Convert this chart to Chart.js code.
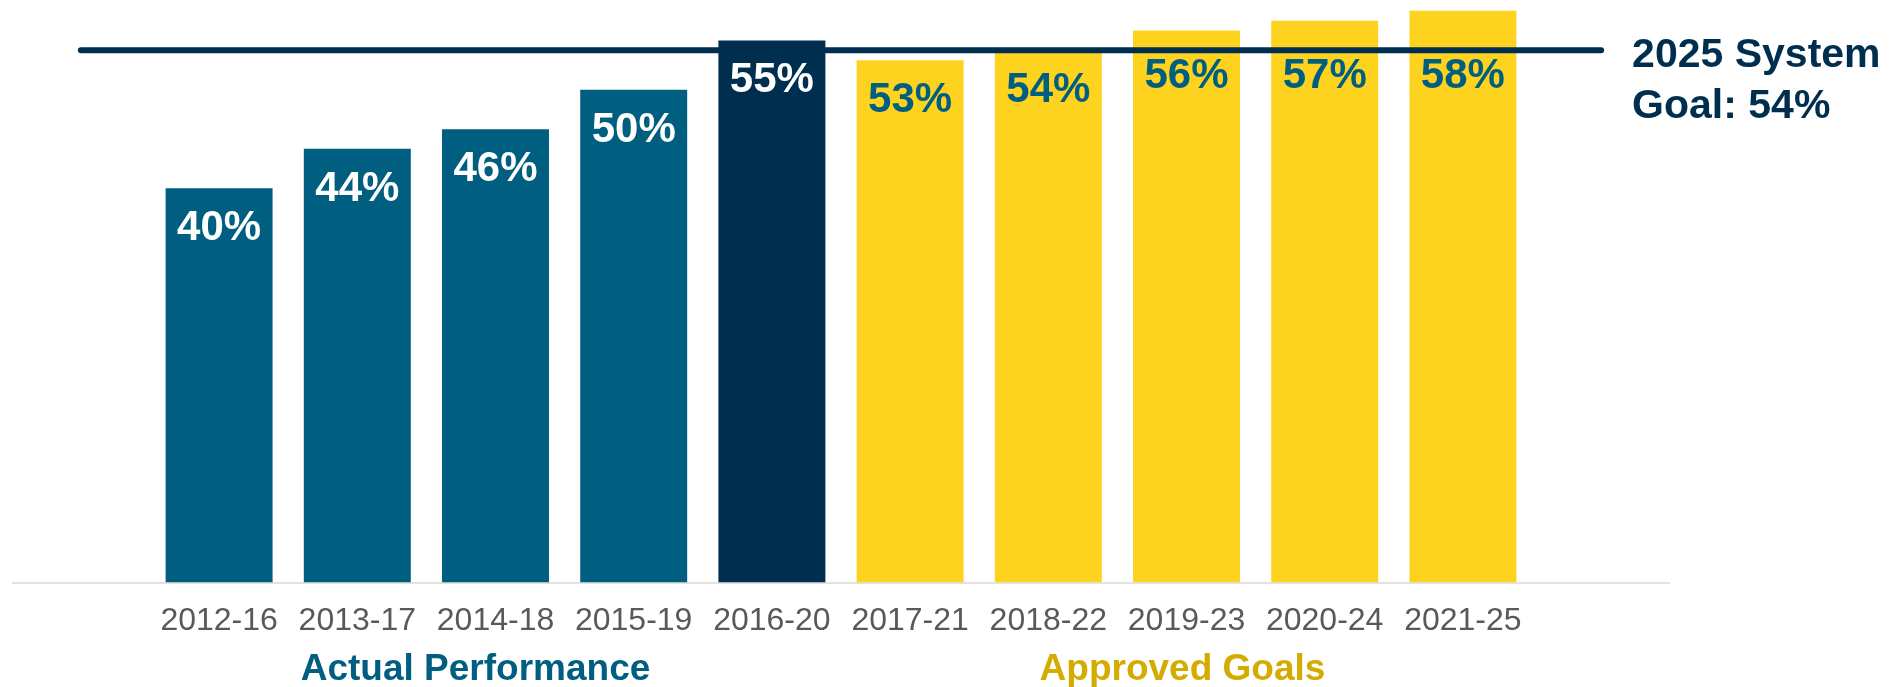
<!DOCTYPE html>
<html>
<head>
<meta charset="utf-8">
<script src="https://cdn.jsdelivr.net/npm/chart.js@4.4.1/dist/chart.umd.min.js"></script>
<style>
  body { margin: 0; background: #fff; }
  #wrap { position: relative; width: 1900px; height: 687px; }
</style>
</head>
<body>
<div id="wrap"><canvas id="chart"></canvas></div>
<script>
// chart data
const periods = ['2012-16', '2013-17', '2014-18', '2015-19', '2016-20', '2017-21', '2018-22', '2019-23', '2020-24', '2021-25'];
const rates = [40, 44, 46, 50, 55, 53, 54, 56, 57, 58];
const groups = ['actual', 'actual', 'actual', 'actual', 'latest', 'goal', 'goal', 'goal', 'goal', 'goal'];
const groupTitles = ['Actual Performance', 'Approved Goals'];
const systemGoal = 54;
const goalText = ['2025 System', 'Goal: 54%'];

const FONT = '"Liberation Sans", Arial, sans-serif';
const TEAL = '#005e80';
const NAVY = '#002e4e';
const YELLOW = '#fdd31f';
const GOLD = '#d6ab00';

const barColors = groups.map(g => g === 'goal' ? YELLOW : (g === 'latest' ? NAVY : TEAL));
const labelColors = groups.map(g => g === 'goal' ? TEAL : '#ffffff');

// extra drawing: baseline, goal line, value labels, group titles, goal note
const decorPlugin = {
  id: 'decor',
  beforeDatasetsDraw(chart) {
    const { ctx, chartArea, scales } = chart;
    const cw = scales.x.width / periods.length;
    const y0 = scales.y.getPixelForValue(0);
    ctx.save();
    ctx.strokeStyle = '#d9d9d9';
    ctx.lineWidth = 1.5;
    ctx.beginPath();
    ctx.moveTo(chartArea.left - cw, y0 + 0.5);
    ctx.lineTo(chartArea.right + cw, y0 + 0.5);
    ctx.stroke();
    ctx.restore();
  },
  afterDatasetsDraw(chart) {
    const { ctx, scales } = chart;
    const cw = scales.x.width / periods.length;
    const gy = scales.y.getPixelForValue(systemGoal);
    const x1 = scales.x.getPixelForValue(0) - cw;
    const x2 = scales.x.getPixelForValue(periods.length - 1) + cw;
    ctx.save();

    // goal line
    ctx.strokeStyle = NAVY;
    ctx.lineWidth = 6;
    ctx.lineCap = 'round';
    ctx.beginPath();
    ctx.moveTo(x1, gy);
    ctx.lineTo(x2, gy);
    ctx.stroke();

    // value labels inside bars, kept below the goal line
    const meta = chart.getDatasetMeta(0);
    ctx.font = 'bold 42px ' + FONT;
    ctx.textAlign = 'center';
    ctx.textBaseline = 'alphabetic';
    meta.data.forEach((bar, i) => {
      const base = Math.max(bar.y + 52, gy + 38);
      ctx.fillStyle = labelColors[i];
      ctx.fillText(rates[i] + '%', bar.x, base);
    });

    // group titles under the tick labels
    const titleY = scales.x.bottom + 21;
    ctx.font = 'bold 37px ' + FONT;
    const firstGoal = groups.indexOf('goal');
    const midA = (scales.x.getPixelForValue(0) + scales.x.getPixelForValue(firstGoal - 1)) / 2;
    const midB = (scales.x.getPixelForValue(firstGoal) + scales.x.getPixelForValue(periods.length - 1)) / 2;
    ctx.fillStyle = TEAL;
    ctx.fillText(groupTitles[0], midA - 20, titleY);
    ctx.fillStyle = GOLD;
    ctx.fillText(groupTitles[1], midB - 4, titleY);

    // goal note to the right of the line
    ctx.font = 'bold 41px ' + FONT;
    ctx.textAlign = 'left';
    ctx.fillStyle = NAVY;
    ctx.fillText(goalText[0], x2 + 31, gy + 16.5);
    ctx.fillText(goalText[1], x2 + 31, gy + 68);
    ctx.restore();
  }
};

new Chart(document.getElementById('chart'), {
  type: 'bar',
  data: {
    labels: periods,
    datasets: [{
      data: rates,
      backgroundColor: barColors,
      borderWidth: 0,
      categoryPercentage: 1,
      barPercentage: 0.774,
    }]
  },
  options: {
    responsive: true,
    maintainAspectRatio: false,
    animation: false,
    layout: { padding: { left: 150, right: 368, top: 1, bottom: 28 } },
    scales: {
      x: {
        grid: { display: false, drawTicks: false },
        border: { display: false },
        ticks: {
          color: '#595959',
          font: { family: FONT, size: 32 },
          padding: 19,
          maxRotation: 0,
          autoSkip: false,
        },
      },
      y: {
        min: 0,
        max: 59,
        display: false,
      },
    },
    plugins: {
      legend: { display: false },
      tooltip: { enabled: false },
    },
  },
  plugins: [decorPlugin],
});
</script>
</body>
</html>
